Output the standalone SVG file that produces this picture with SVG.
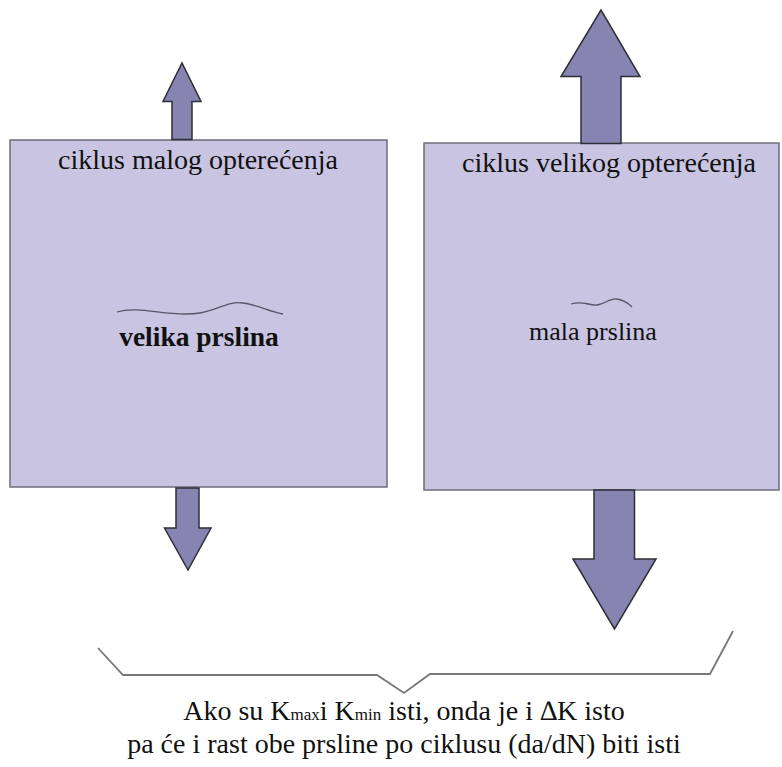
<svg xmlns="http://www.w3.org/2000/svg" width="782" height="767" viewBox="0 0 782 767">
  <style>
    .plate { fill: #c8c4e2; stroke: #6e6e78; stroke-width: 1.5; }
    .load { fill: #8884b2; stroke: #2e2e38; stroke-width: 1.5; stroke-linejoin: miter; }
    .crack { fill: none; stroke: #555566; stroke-width: 1.3; }
    .brace { fill: none; stroke: #777; stroke-width: 1.8; stroke-linejoin: miter; }
    .lbl { fill: #111; text-anchor: middle; font-family: "Liberation Serif", "Times New Roman", serif; }
  </style>
  <rect width="782" height="767" fill="#ffffff"/>

  <!-- left plate: small load cycle, large crack -->
  <g id="plate-small-load">
    <rect class="plate" x="10" y="140" width="377" height="347"/>
    <text class="lbl" x="198" y="169" font-size="28">ciklus malog opterećenja</text>
    <path class="crack" d="M117,312 C140,305 170,318 200,313 C218,310 228,301 243,303 C258,305 270,312 283,314"/>
    <text class="lbl" x="199" y="346" font-size="27.5" font-weight="bold">velika prslina</text>
  </g>
  <g id="arrow-small-up">
    <path class="load" d="M172,139.5 V101.5 H163 L182,63 L201,101.5 H192 V139.5 Z"/>
  </g>
  <g id="arrow-small-down">
    <path class="load" d="M176,488 V528 H164.5 L188,570 L211,528 H199 V488 Z"/>
  </g>

  <!-- right plate: large load cycle, small crack -->
  <g id="plate-large-load">
    <rect class="plate" x="424" y="143" width="355" height="347"/>
    <text class="lbl" x="609" y="172" font-size="28">ciklus velikog opterećenja</text>
    <path class="crack" d="M571,304 C582,300 590,306 597,305 C605,304 610,298 617,299 C624,300 629,304 632,307"/>
    <text class="lbl" x="593" y="340" font-size="26">mala prslina</text>
  </g>
  <g id="arrow-large-up">
    <path class="load" d="M581,143.5 V76.5 H561 L601,10 L640,76.5 H621 V143.5 Z"/>
  </g>
  <g id="arrow-large-down">
    <path class="load" d="M594,490 V559 H573 L614.5,629 L656,559 H634.5 V490 Z"/>
  </g>

  <!-- brace grouping both plates -->
  <g id="connectors">
    <path class="brace" d="M98,648 L123,675 L377,675 L404,693 L430,674 L710,674 L733,631"/>
  </g>

  <g id="conclusion">
    <text class="lbl" x="404" y="720" font-size="28">Ako su K<tspan font-size="17">max</tspan>i K<tspan font-size="17">min</tspan> isti, onda je i ∆K isto</text>
    <text class="lbl" x="404" y="753" font-size="28">pa će i rast obe prsline po ciklusu (da/dN) biti isti</text>
  </g>
</svg>
